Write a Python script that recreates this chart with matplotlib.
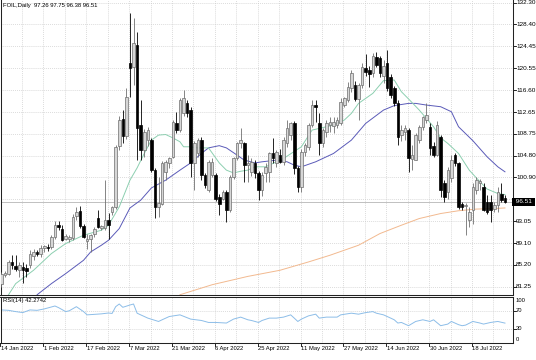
import numpy as np
import matplotlib.pyplot as plt
import matplotlib.transforms as mtransforms

plt.rcParams['font.family'] = ['Liberation Sans', 'DejaVu Sans']

# daily candles (bar 0 = 14 Jan 2022)
opens = [81.8, 83.4, 83.6, 85.7, 85.0, 84.3, 84.8, 84.6, 85.1, 86.7,
         87.4, 87.2, 88.2, 88.4, 88.4, 90.2, 92.3, 91.7, 89.9, 89.8,
         90.0, 93.9, 94.8, 92.1, 89.5, 89.8, 90.8, 93.6, 91.8, 91.8,
         93.2, 94.7, 95.6, 106.6, 111.4, 108.4, 121.4, 120.8, 124.7, 110.3,
         105.8, 107.6, 107.6, 102.2, 95.6, 96.2, 101.9, 103.4, 104.6, 110.6,
         109.4, 112.4, 114.2, 113.0, 103.4, 105.2, 107.6, 101.3, 98.6, 101.3,
         101.3, 97.4, 97.1, 98.3, 95.0, 101.0, 104.3, 107.0, 107.0, 103.1,
         101.8, 103.4, 101.6, 98.6, 101.6, 101.8, 105.2, 103.4, 104.9, 103.7,
         107.0, 108.5, 110.6, 102.5, 99.2, 105.5, 106.4, 110.3, 113.9, 110.6,
         107.0, 109.1, 110.3, 110.1, 110.3, 110.6, 113.9, 114.8, 116.9, 117.5,
         115.0, 117.5, 120.6, 120.2, 119.6, 122.6, 122.3, 119.2, 121.4, 119.0,
         116.9, 114.2, 108.6, 109.1, 109.4, 104.2, 104.0, 107.6, 110.0, 111.2,
         110.0, 106.6, 105.0, 108.2, 99.8, 98.3, 100.7, 104.9, 103.4, 96.2,
         95.7, 93.2, 95.0, 98.6, 99.8, 99.2, 96.5, 96.5, 95.3, 95.9,
         98.0, 97.26]
highs = [83.9, 84.0, 86.0, 86.9, 86.9, 85.6, 85.7, 85.4, 87.8, 88.1,
         87.9, 88.8, 88.8, 88.9, 90.5, 93.0, 93.0, 92.3, 90.7, 90.6,
         94.4, 95.6, 95.8, 92.5, 90.8, 90.8, 92.0, 95.0, 92.4, 100.5,
         94.5, 95.8, 106.8, 112.0, 113.0, 117.0, 130.5, 129.5, 127.1, 114.8,
         109.6, 110.0, 108.0, 102.6, 101.0, 103.8, 104.0, 104.6, 111.2, 112.7,
         115.1, 116.6, 114.8, 113.6, 107.5, 108.0, 108.2, 101.6, 104.0, 104.3,
         101.6, 98.0, 98.6, 98.6, 101.3, 104.5, 107.3, 109.7, 107.3, 104.9,
         104.3, 104.0, 102.0, 101.9, 103.4, 105.5, 107.9, 105.8, 106.0, 108.2,
         111.2, 110.9, 111.0, 103.0, 106.0, 107.0, 110.6, 114.8, 114.8, 112.4,
         109.7, 111.2, 111.8, 111.8, 111.8, 115.1, 115.4, 118.1, 120.2, 118.3,
         117.8, 121.4, 123.0, 121.0, 123.3, 123.5, 122.8, 122.0, 123.8, 119.5,
         117.3, 114.8, 110.3, 110.3, 109.7, 106.7, 108.8, 110.3, 112.0, 114.2,
         110.6, 107.3, 111.0, 108.5, 100.4, 102.8, 104.9, 105.2, 103.7, 96.5,
         96.3, 95.5, 99.8, 101.0, 100.6, 99.8, 97.7, 97.7, 96.5, 99.2,
         99.8, 97.75]
lows = [81.2, 83.0, 83.3, 84.5, 84.1, 83.0, 81.9, 83.0, 84.6, 86.0,
        86.8, 86.6, 87.4, 87.6, 88.0, 89.9, 91.4, 89.4, 89.6, 89.3,
        89.7, 93.2, 91.8, 90.0, 88.1, 87.5, 90.2, 91.8, 91.4, 91.5,
        89.9, 94.2, 95.2, 105.8, 107.0, 107.8, 115.4, 117.5, 104.0, 104.0,
        104.5, 106.5, 101.8, 93.6, 93.8, 96.0, 100.5, 102.5, 104.3, 108.8,
        109.0, 112.0, 111.8, 101.0, 98.6, 104.6, 100.4, 98.9, 98.2, 101.0,
        96.6, 94.1, 96.8, 92.9, 94.7, 100.6, 104.0, 106.2, 100.1, 100.1,
        101.2, 100.8, 96.8, 97.5, 100.1, 100.1, 103.4, 102.8, 103.4, 103.2,
        106.4, 107.7, 101.5, 98.3, 98.3, 104.8, 105.8, 110.0, 110.9, 104.9,
        106.4, 108.2, 109.1, 108.8, 109.7, 110.3, 113.6, 114.5, 116.3, 114.6,
        111.2, 116.9, 119.2, 117.2, 119.0, 120.8, 119.0, 117.8, 116.5, 115.2,
        113.8, 106.7, 107.5, 107.6, 101.9, 102.2, 104.0, 107.0, 109.4, 110.6,
        104.9, 104.6, 104.8, 97.4, 96.5, 97.0, 100.0, 103.0, 95.3, 95.0,
        90.5, 92.0, 92.6, 98.0, 98.6, 94.8, 94.4, 92.9, 94.7, 94.7,
        96.5, 96.38]
closes = [83.5, 83.7, 85.7, 85.1, 84.5, 85.2, 84.3, 84.0, 87.2, 87.4,
          87.2, 88.2, 88.5, 88.2, 90.2, 92.3, 91.9, 89.6, 90.3, 90.1,
          93.8, 94.6, 92.2, 90.2, 89.9, 90.5, 91.7, 92.0, 92.2, 93.3,
          92.3, 95.6, 106.4, 111.2, 108.4, 115.4, 120.5, 125.0, 109.7, 105.8,
          109.1, 109.4, 102.2, 95.6, 96.3, 103.4, 103.7, 104.3, 110.9, 109.4,
          114.8, 115.1, 112.4, 103.4, 107.0, 107.6, 101.3, 99.5, 103.7, 103.7,
          97.1, 96.2, 98.3, 95.0, 101.0, 104.3, 107.0, 107.6, 103.1, 103.4,
          103.6, 101.6, 98.6, 101.4, 102.8, 105.2, 104.3, 105.5, 103.7, 107.6,
          109.7, 110.6, 102.5, 99.2, 105.5, 106.7, 110.3, 113.9, 113.6, 107.0,
          109.4, 110.6, 110.9, 110.9, 111.2, 114.5, 115.1, 117.2, 119.6, 115.0,
          117.5, 120.8, 119.8, 119.4, 122.8, 121.1, 119.6, 121.0, 116.9, 115.7,
          114.2, 108.2, 109.5, 109.7, 104.3, 105.0, 108.5, 110.0, 111.8, 112.1,
          106.1, 105.0, 110.3, 98.6, 97.4, 102.2, 104.0, 103.4, 95.6, 95.6,
          96.0, 94.7, 99.2, 100.4, 100.2, 95.0, 94.7, 95.0, 95.9, 98.3,
          96.8, 96.51]

date_labels = ["14 Jan 2022", "1 Feb 2022", "17 Feb 2022", "7 Mar 2022",
               "21 Mar 2022", "6 Apr 2022", "25 Apr 2022", "11 May 2022",
               "27 May 2022", "14 Jun 2022", "30 Jun 2022", "18 Jul 2022"]
date_bars = [0, 12, 24, 36, 48, 60, 72, 84, 96, 108, 120, 132]

price_ticks = [132.30, 128.40, 124.45, 120.55, 116.60, 112.65, 108.75,
               104.80, 100.90, 96.95, 93.05, 89.10, 85.20, 81.25]

# moving averages sampled along the chart
ma_fast_bars = [2, 4, 9, 14, 18, 23, 28, 30, 33, 36, 38, 40, 42, 44, 46, 48, 50,
                51, 53, 55, 58, 59, 61, 63, 65, 67, 69, 71, 74, 79, 84, 87, 93,
                96, 98, 100, 104, 107, 110, 112, 114, 117, 121, 123, 125, 128,
                131, 133, 136, 139, 141]
ma_fast_vals = [79.8, 81.8, 84.2, 87.2, 89.0, 90.5, 91.4, 92.3, 95.6, 100.4,
                102.6, 105.2, 107.6, 108.5, 108.6, 108.0, 107.3, 106.4, 106.4,
                106.2, 106.2, 105.3, 103.5, 102.2, 101.7, 102.0, 102.2, 102.8,
                102.8, 104.3, 106.4, 109.4, 110.3, 111.2, 112.4, 114.2, 116.0,
                118.3, 118.4, 116.3, 115.0, 113.0, 110.0, 108.0, 107.0, 105.2,
                102.2, 100.8, 98.8, 98.0, 97.8]
ma_mid_bars = [10, 14, 18, 23, 25, 28, 30, 33, 36, 39, 42, 46, 50, 53, 56, 58,
               61, 63, 66, 68, 71, 73, 77, 80, 82, 84, 88, 93, 98, 102, 107,
               110, 114, 116, 119, 123, 126, 128, 132, 136, 139, 141]
ma_mid_vals = [79.8, 81.8, 83.6, 86.0, 87.5, 88.7, 89.6, 91.7, 95.4, 96.8,
               99.0, 100.4, 102.2, 103.5, 105.2, 106.2, 106.6, 106.2, 104.9,
               104.0, 103.5, 103.7, 104.0, 103.7, 103.1, 102.8, 103.7, 105.2,
               107.6, 110.6, 113.0, 113.8, 114.2, 114.2, 113.9, 113.6, 112.7,
               110.0, 107.5, 104.6, 102.8, 101.9]
ma_slow_bars = [50, 59, 69, 78, 86, 92, 100, 106, 112, 117, 123, 128, 133, 138, 141]
ma_slow_vals = [79.8, 81.6, 83.1, 84.2, 85.7, 86.9, 88.7, 90.8, 92.3, 93.5,
                94.4, 94.9, 95.2, 95.3, 95.4]

rsi_bars = [0, 2, 4, 6, 8, 10, 12, 15, 16, 18, 19, 21, 23, 24, 26, 28, 30, 31,
            32, 33, 34, 36, 37, 38, 39, 41, 44, 45, 47, 50, 53, 56, 58, 60, 63,
            65, 67, 69, 70, 72, 73, 75, 77, 79, 81, 82, 83, 84, 86, 88, 89, 91,
            94, 95, 98, 100, 102, 104, 105, 107, 109, 110, 111, 112, 114, 116,
            118, 120, 121, 123, 125, 126, 128, 129, 130, 132, 134, 135, 137,
            139, 141]
rsi_vals = [71.4, 70.5, 67.7, 65.5, 71.4, 70.5, 73.6, 80.1, 76.5, 67.7, 69.5,
            78.6, 67.7, 60.5, 61.6, 62.7, 64.6, 63.6, 78.6, 84.5, 77.2, 82.3,
            84.5, 64.2, 60.5, 53.3, 45.9, 49.6, 56.8, 60.5, 51.1, 48.1, 43.7,
            43.7, 42.4, 51.1, 55.5, 49.6, 48.1, 43.7, 48.1, 53.3, 53.3, 55.5,
            60.5, 53.3, 45.9, 51.1, 58.3, 62.0, 53.3, 55.5, 55.5, 60.5, 64.2,
            62.0, 65.5, 67.7, 64.2, 60.5, 53.3, 49.6, 42.4, 43.7, 36.5, 45.9,
            49.6, 45.9, 49.6, 36.5, 40.1, 45.9, 38.8, 36.5, 37.9, 45.9, 42.4,
            40.1, 43.7, 45.9, 42.27]

last_price = 96.51

W, H = 536, 360
fig = plt.figure(figsize=(W / 100, H / 100), dpi=100)
fig.patch.set_facecolor('white')


def fy(py):
    return 1 - py / H


left = 0.5 / W
width = (513 - 0.5) / W
ax = fig.add_axes([left, fy(295), width, fy(0) - fy(295)])
ax_rsi = fig.add_axes([left, fy(343), width, fy(296.5) - fy(343)])

xmin, xmax = -0.25, 143.25
grid_kw = dict(color='#c8c8c8', lw=0.5, linestyle=(0, (1.2, 1.6)), zorder=0)

for a in (ax, ax_rsi):
    a.set_xlim(xmin, xmax)
    a.set_xticks([])
    a.set_yticks([])
    for s in a.spines.values():
        s.set_color('#222222')
        s.set_linewidth(0.75)
    for b in range(0, 142, 6):
        a.axvline(b - 0.25, **grid_kw)
ax.spines['top'].set_visible(False)

ax.set_ylim(79.755, 132.785)
for p in price_ticks:
    ax.axhline(p, **grid_kw)

ax.axhline(last_price, color='#c0c0c0', lw=0.7, zorder=1)

# moving averages
ax.plot(ma_slow_bars, ma_slow_vals, color='#f2b98f', lw=0.7, zorder=2)
ax.plot(ma_mid_bars, ma_mid_vals, color='#5a5ab8', lw=0.7, zorder=2)
ax.plot(ma_fast_bars, ma_fast_vals, color='#8ccfb0', lw=0.7, zorder=2)

# candles
idx = np.arange(len(opens))
o = np.array(opens); h = np.array(highs); l = np.array(lows); c = np.array(closes)
up = c >= o
ax.vlines(idx[up], l[up], h[up], color='#707070', lw=0.6, zorder=3)
ax.vlines(idx[~up], l[~up], h[~up], color='black', lw=0.6, zorder=3)
body_lo = np.minimum(o, c)
body_h = np.maximum(np.abs(c - o), 0.12)
ax.bar(idx[up], body_h[up], bottom=body_lo[up], width=0.72, color='#d6d6d6',
       edgecolor='#6e6e6e', lw=0.5, zorder=4)
ax.bar(idx[~up], body_h[~up], bottom=body_lo[~up], width=0.72, color='black',
       edgecolor='black', lw=0.5, zorder=4)

# right price scale
tr_main = mtransforms.blended_transform_factory(fig.transFigure, ax.transData)
for p in price_ticks:
    if abs(p - last_price) < 1.0:
        continue
    ax.plot([1.0, 1.006], [p, p], transform=ax.get_yaxis_transform(),
            color='black', lw=0.6, clip_on=False)
    fig.text(516 / W, p, f"{p:.2f}", transform=tr_main, fontsize=4.6,
             va='center', ha='left', color='black')
ax.text(514 / W, last_price, f" {last_price:.2f} ", transform=tr_main,
        fontsize=4.6, va='center', ha='left', color='white',
        bbox=dict(boxstyle='square,pad=0.25', fc='black', ec='black', lw=0))

ax.text(3 / W, fy(5), "FOIL,Daily  97.26 97.75 96.38 96.51",
        transform=fig.transFigure, fontsize=4.2, va='center', ha='left',
        color='black')

# RSI panel
ax_rsi.set_ylim(-1.75, 101.1)
for lvl in (70, 30):
    ax_rsi.axhline(lvl, **grid_kw)
ax_rsi.plot(rsi_bars, rsi_vals, color='#8cbde8', lw=0.7, zorder=2)
ax_rsi.text(3 / W, fy(300.5), "RSI(14) 42.2742", transform=fig.transFigure,
            fontsize=4.2, va='center', ha='left', color='black')
tr_rsi = mtransforms.blended_transform_factory(fig.transFigure, ax_rsi.transData)
for lvl, lab in ((93.3, "100"), (70, "70"), (30, "30"), (5.9, "0")):
    fig.text(516 / W, lvl, lab, transform=tr_rsi, fontsize=4.2, va='center',
             ha='left', color='black')
for lvl in (70, 30):
    ax_rsi.plot([1.0, 1.006], [lvl, lvl], transform=ax_rsi.get_yaxis_transform(),
                color='black', lw=0.6, clip_on=False)

# date scale
tr_date = mtransforms.blended_transform_factory(ax_rsi.transData, fig.transFigure)
for b, lab in zip(date_bars, date_labels):
    ax_rsi.plot([b - 0.25, b - 0.25], [fy(343), fy(345.5)], transform=tr_date,
                color='black', lw=0.6, clip_on=False)
    ax_rsi.text(b - 0.1, fy(348.5), lab, transform=tr_date, fontsize=4.2,
                va='center', ha='left', color='black')

fig.savefig('out.png', dpi=100, facecolor='white')
